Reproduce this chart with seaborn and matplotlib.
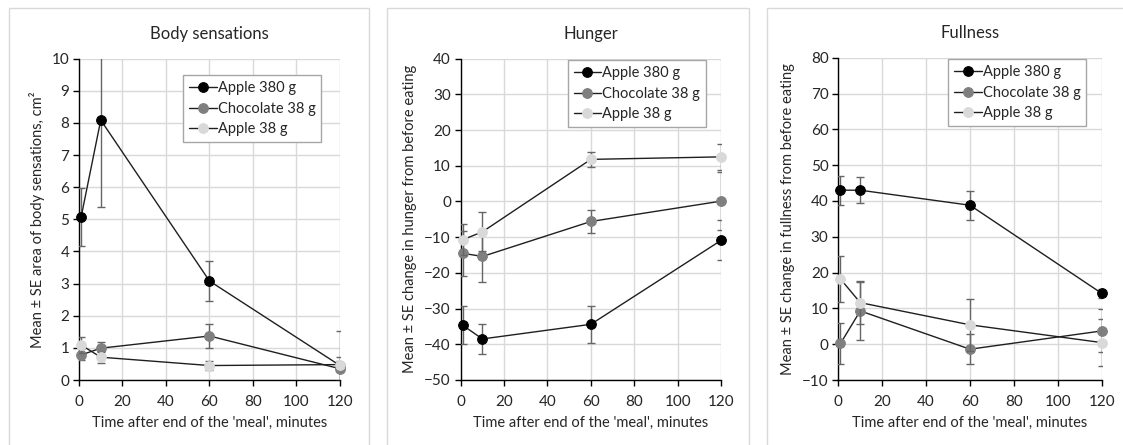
import numpy as np
import pandas as pd
import matplotlib
matplotlib.use("Agg")
import matplotlib.pyplot as plt
import seaborn as sns
from matplotlib.patches import Rectangle

# ---------------- data ----------------
times = [1, 10, 60, 120]
series_names = ["Apple 380 g", "Chocolate 38 g", "Apple 38 g"]

# Body sensations (cm^2)
body_apple380 = [5.08, 8.09, 3.08, 0.45]
body_apple380_se = [0.90, 2.70, 0.63, 1.07]
body_choc38 = [0.78, 0.99, 1.37, 0.35]
body_choc38_se = [0.17, 0.20, 0.37, 0.37]
body_apple38 = [1.09, 0.71, 0.45, 0.48]
body_apple38_se = [0.26, 0.17, 0.14, 0.10]

# Hunger change
hunger_apple380 = [-34.7, -38.5, -34.4, -10.9]
hunger_apple380_se = [5.3, 4.1, 5.1, 5.6]
hunger_choc38 = [-14.5, -15.4, -5.6, 0.1]
hunger_choc38_se = [6.3, 7.2, 3.3, 8.1]
hunger_apple38 = [-10.7, -8.5, 11.8, 12.5]
hunger_apple38_se = [4.3, 5.5, 2.2, 3.6]

# Fullness change
full_apple380 = [43.0, 43.0, 38.8, 14.2]
full_apple380_se = [4.0, 3.7, 4.1, 1.2]
full_choc38 = [0.2, 9.3, -1.4, 3.7]
full_choc38_se = [5.6, 8.0, 4.2, 6.0]
full_apple38 = [18.2, 11.6, 5.4, 0.45]
full_apple38_se = [6.4, 6.0, 7.3, 6.5]

titles = ["Body sensations", "Hunger", "Fullness"]
ylabels = ["Mean \u00b1 SE area of body sensations, cm\u00b2",
           "Mean \u00b1 SE change in hunger from before eating",
           "Mean \u00b1 SE change in fullness from before eating"]
xlabel = "Time after end of the 'meal', minutes"
ylims = [(0, 10), (-50, 40), (-10, 80)]
ysteps = [1, 10, 10]

panels = [
    [(body_apple380, body_apple380_se), (body_choc38, body_choc38_se), (body_apple38, body_apple38_se)],
    [(hunger_apple380, hunger_apple380_se), (hunger_choc38, hunger_choc38_se), (hunger_apple38, hunger_apple38_se)],
    [(full_apple380, full_apple380_se), (full_choc38, full_choc38_se), (full_apple38, full_apple38_se)],
]

# ---------------- style ----------------
sns.set_style("white")
plt.rcParams['font.family'] = ['Lato', 'DejaVu Sans']
marker_colors = ["#000000", "#7f7f7f", "#d9d9d9"]
line_color = "#1f1f1f"
err_color = "#666666"

W, H = 1123, 445
fig = plt.figure(figsize=(W / 100, H / 100), dpi=100)

# axes boxes in pixels: left, right, top, bottom
ax_px = [(79, 340, 58.7, 380), (460.7, 721, 58.7, 380), (838.3, 1101.7, 57.7, 380)]
frame_px = [(9, 369), (387, 749), (767, 1130)]
legend_anchor = [(0.40, 0.948), (0.411, 0.995), (0.418, 0.995)]

for i in range(3):
    fl, fr = frame_px[i]
    fig.add_artist(Rectangle((fl / W, -0.1), (fr - fl) / W, 1.1 - 8 / H,
                             transform=fig.transFigure, fill=False,
                             edgecolor="#d9d9d9", linewidth=1.0))
    l, r, t, b = ax_px[i]
    ax = fig.add_axes([l / W, 1 - b / H, (r - l) / W, (b - t) / H])

    for j, (vals, se) in enumerate(panels[i]):
        df = pd.DataFrame({"time": times, "value": vals})
        ax.errorbar(times, vals, yerr=se, fmt="none", ecolor=err_color,
                    elinewidth=1.0, capsize=2.6, capthick=1.0, zorder=3 + j)
        sns.lineplot(data=df, x="time", y="value", ax=ax, color=line_color,
                     linewidth=1.0, marker="o", markersize=7,
                     markerfacecolor=marker_colors[j],
                     markeredgecolor=marker_colors[j],
                     label=series_names[j], zorder=4 + j, clip_on=False)

    ax.set_xlim(0, 120)
    ax.set_ylim(*ylims[i])
    ax.set_xticks(np.arange(0, 121, 20))
    ax.set_yticks(np.arange(ylims[i][0], ylims[i][1] + 0.001, ysteps[i]))
    ax.grid(True, color="#d9d9d9", linewidth=1.0)
    ax.set_axisbelow(True)
    for s in ["top", "right"]:
        ax.spines[s].set_visible(False)
    for s in ["left", "bottom"]:
        ax.spines[s].set_color("#000000")
        ax.spines[s].set_linewidth(1.0)
    ax.tick_params(axis="both", direction="out", length=4, width=1.0,
                   color="#000000", labelsize=11, labelcolor="#262626",
                   left=True, bottom=True)
    ax.tick_params(axis="x", pad=7)
    ax.tick_params(axis="y", pad=3)
    ax.set_xlabel(xlabel, fontsize=10.5, color="#262626", labelpad=5)
    ax.set_ylabel(ylabels[i], fontsize=10.5, color="#262626", labelpad=5)
    ax.set_title(titles[i], fontsize=12, color="#262626", pad=14.5)

    leg = ax.legend(loc="upper left", bbox_to_anchor=legend_anchor[i],
                    fontsize=10.5, frameon=True, fancybox=False, framealpha=1,
                    edgecolor="#a6a6a6", handlelength=1.9, handletextpad=0.05,
                    borderpad=0.4, labelspacing=0.45, borderaxespad=0)
    leg.get_frame().set_linewidth(1.0)

fig.savefig("out.png", dpi=100)
